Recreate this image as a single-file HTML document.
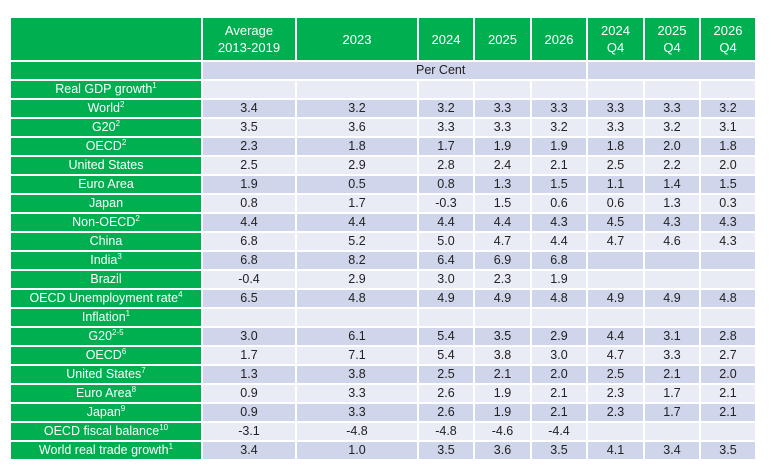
<!DOCTYPE html>
<html><head><meta charset="utf-8"><style>
body{margin:0;width:771px;height:472px;background:#fff;overflow:hidden;font-family:"Liberation Sans",sans-serif;}
table{position:absolute;left:9px;top:16px;border-collapse:separate;border-spacing:2px;table-layout:fixed;font-size:12.5px;}
td{padding:0;height:17px;line-height:17px;text-align:center;color:#222;white-space:nowrap;overflow:hidden;}
td.h{background:#00b050;color:#fff;}
tr.hd td{height:42px;line-height:17px;background:#00b050;color:#fff;font-size:13px;}
tr.d td{background:#cfd5ea;}
tr.l td{background:#e9ebf5;}
tr td.h{background:#00b050;color:#fff;}
sup{font-size:8px;line-height:0;vertical-align:5px;}
</style></head><body>
<table>
<colgroup><col style="width:190px"><col style="width:92px"><col style="width:120px"><col style="width:54px"><col style="width:55px"><col style="width:54px"><col style="width:55px"><col style="width:54px"><col style="width:54px"></colgroup>
<tr class="hd"><td></td><td>Average<br>2013-2019</td><td>2023</td><td>2024</td><td>2025</td><td>2026</td><td>2024<br>Q4</td><td>2025<br>Q4</td><td>2026<br>Q4</td></tr>
<tr class="d"><td class="h"></td><td colspan="5" style="text-align:left;padding-left:213px">Per Cent</td><td colspan="3"></td></tr>
<tr class="l"><td class="h">Real GDP growth<sup>1</sup></td><td></td><td></td><td></td><td></td><td></td><td></td><td></td><td></td></tr>
<tr class="d"><td class="h">World<sup>2</sup></td><td>3.4</td><td>3.2</td><td>3.2</td><td>3.3</td><td>3.3</td><td>3.3</td><td>3.3</td><td>3.2</td></tr>
<tr class="l"><td class="h">G20<sup>2</sup></td><td>3.5</td><td>3.6</td><td>3.3</td><td>3.3</td><td>3.2</td><td>3.3</td><td>3.2</td><td>3.1</td></tr>
<tr class="d"><td class="h">OECD<sup>2</sup></td><td>2.3</td><td>1.8</td><td>1.7</td><td>1.9</td><td>1.9</td><td>1.8</td><td>2.0</td><td>1.8</td></tr>
<tr class="l"><td class="h">United States</td><td>2.5</td><td>2.9</td><td>2.8</td><td>2.4</td><td>2.1</td><td>2.5</td><td>2.2</td><td>2.0</td></tr>
<tr class="d"><td class="h">Euro Area</td><td>1.9</td><td>0.5</td><td>0.8</td><td>1.3</td><td>1.5</td><td>1.1</td><td>1.4</td><td>1.5</td></tr>
<tr class="l"><td class="h">Japan</td><td>0.8</td><td>1.7</td><td>-0.3</td><td>1.5</td><td>0.6</td><td>0.6</td><td>1.3</td><td>0.3</td></tr>
<tr class="d"><td class="h">Non-OECD<sup>2</sup></td><td>4.4</td><td>4.4</td><td>4.4</td><td>4.4</td><td>4.3</td><td>4.5</td><td>4.3</td><td>4.3</td></tr>
<tr class="l"><td class="h">China</td><td>6.8</td><td>5.2</td><td>5.0</td><td>4.7</td><td>4.4</td><td>4.7</td><td>4.6</td><td>4.3</td></tr>
<tr class="d"><td class="h">India<sup>3</sup></td><td>6.8</td><td>8.2</td><td>6.4</td><td>6.9</td><td>6.8</td><td></td><td></td><td></td></tr>
<tr class="l"><td class="h">Brazil</td><td>-0.4</td><td>2.9</td><td>3.0</td><td>2.3</td><td>1.9</td><td></td><td></td><td></td></tr>
<tr class="d"><td class="h">OECD Unemployment rate<sup>4</sup></td><td>6.5</td><td>4.8</td><td>4.9</td><td>4.9</td><td>4.8</td><td>4.9</td><td>4.9</td><td>4.8</td></tr>
<tr class="l"><td class="h">Inflation<sup>1</sup></td><td></td><td></td><td></td><td></td><td></td><td></td><td></td><td></td></tr>
<tr class="d"><td class="h">G20<sup>2-5</sup></td><td>3.0</td><td>6.1</td><td>5.4</td><td>3.5</td><td>2.9</td><td>4.4</td><td>3.1</td><td>2.8</td></tr>
<tr class="l"><td class="h">OECD<sup>6</sup></td><td>1.7</td><td>7.1</td><td>5.4</td><td>3.8</td><td>3.0</td><td>4.7</td><td>3.3</td><td>2.7</td></tr>
<tr class="d"><td class="h">United States<sup>7</sup></td><td>1.3</td><td>3.8</td><td>2.5</td><td>2.1</td><td>2.0</td><td>2.5</td><td>2.1</td><td>2.0</td></tr>
<tr class="l"><td class="h">Euro Area<sup>8</sup></td><td>0.9</td><td>3.3</td><td>2.6</td><td>1.9</td><td>2.1</td><td>2.3</td><td>1.7</td><td>2.1</td></tr>
<tr class="d"><td class="h">Japan<sup>9</sup></td><td>0.9</td><td>3.3</td><td>2.6</td><td>1.9</td><td>2.1</td><td>2.3</td><td>1.7</td><td>2.1</td></tr>
<tr class="l"><td class="h">OECD fiscal balance<sup>10</sup></td><td>-3.1</td><td>-4.8</td><td>-4.8</td><td>-4.6</td><td>-4.4</td><td></td><td></td><td></td></tr>
<tr class="d"><td class="h">World real trade growth<sup>1</sup></td><td>3.4</td><td>1.0</td><td>3.5</td><td>3.6</td><td>3.5</td><td>4.1</td><td>3.4</td><td>3.5</td></tr>
</table>
</body></html>
